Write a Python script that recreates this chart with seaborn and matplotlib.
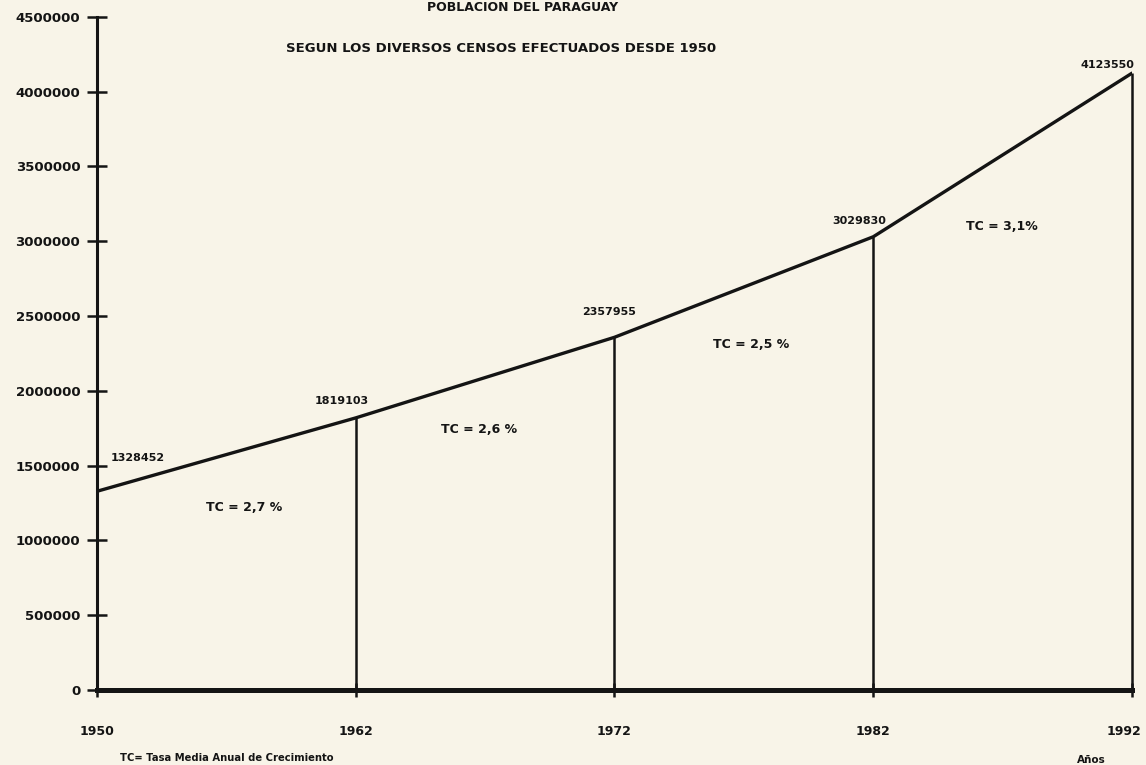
import matplotlib
matplotlib.use("Agg")
import matplotlib.pyplot as plt
import matplotlib.transforms as mtransforms
import seaborn as sns
import pandas as pd

# censos de poblacion del Paraguay
anios = ["1950", "1962", "1972", "1982", "1992"]
poblacion = [1328452, 1819103, 2357955, 3029830, 4123550]
tasas = ["TC = 2,7 %", "TC = 2,6 %", "TC = 2,5 %", "TC = 3,1%"]
y_ticks = [0, 500000, 1000000, 1500000, 2000000, 2500000, 3000000, 3500000, 4000000, 4500000]

sns.set_style("white")
plt.rcParams['font.family'] = ['DejaVu Sans']
plt.rcParams['font.weight'] = 'bold'

fondo = '#f8f4e8'
tinta = '#141414'

df = pd.DataFrame({"pos": range(len(anios)), "poblacion": poblacion})

fig = plt.figure(figsize=(11.46, 7.65), dpi=100, facecolor=fondo)
ax = fig.add_axes([0.0846, 0.098, 0.9032, 0.880])
ax.set_facecolor(fondo)

sns.lineplot(data=df, x="pos", y="poblacion", ax=ax, color=tinta, linewidth=2.4)
ax.vlines(df["pos"], 0, df["poblacion"], color=tinta, linewidth=1.8, clip_on=False)

ax.set_xlim(0, len(anios) - 1)
ax.set_ylim(0, 4500000)
ax.set_xticks(range(len(anios)))
ax.set_xticklabels(anios)
ax.set_yticks(y_ticks)
ax.set_yticklabels([str(v) for v in y_ticks])
ax.set_xlabel("")
ax.set_ylabel("")

for s in ["top", "right"]:
    ax.spines[s].set_visible(False)
ax.spines["left"].set_linewidth(2.2)
ax.spines["bottom"].set_linewidth(3.6)
ax.spines["left"].set_color(tinta)
ax.spines["bottom"].set_color(tinta)

ax.tick_params(axis="y", left=True, direction="inout", length=14, width=1.8, color=tinta,
               labelsize=9.5, pad=5, labelcolor=tinta)
ax.tick_params(axis="x", bottom=True, direction="inout", length=10, width=1.8, color=tinta,
               labelsize=9, pad=20, labelcolor=tinta)
for lab in ax.get_xticklabels() + ax.get_yticklabels():
    lab.set_fontweight("bold")
# el ultimo año un poco hacia la izquierda para que no se corte
ult = ax.get_xticklabels()[-1]
ult.set_transform(ult.get_transform() + mtransforms.ScaledTranslation(-6 / 72, 0, fig.dpi_scale_trans))

# etiquetas de valores (desplazamiento en puntos)
offsets = [(10, 24, "left"), (-10, 12, "center"), (-4, 18, "center"),
           (-10, 11, "center"), (-18, 6, "center")]
for i, (dx, dy, ha) in enumerate(offsets):
    ax.annotate(str(poblacion[i]), (i, poblacion[i]), xytext=(dx, dy),
                textcoords="offset points", ha=ha, va="center",
                fontsize=8, fontweight="bold", color=tinta)

# tasas de crecimiento
tc_pos = [(0.42, 1220000), (1.33, 1740000), (2.38, 2310000), (3.36, 3100000)]
for t, (x, y) in zip(tasas, tc_pos):
    ax.text(x, y, t, ha="left", va="center", fontsize=9, fontweight="bold", color=tinta)

fig.text(0.456, 0.999, "POBLACION DEL PARAGUAY", ha="center", va="top",
         fontsize=9, fontweight="bold", color=tinta)
fig.text(0.437, 0.937, "SEGUN LOS DIVERSOS CENSOS EFECTUADOS DESDE 1950", ha="center",
         va="center", fontsize=9.5, fontweight="bold", color=tinta)
fig.text(0.105, 0.009, "TC= Tasa Media Anual de Crecimiento", ha="left", va="center",
         fontsize=7.2, fontweight="bold", color=tinta)
fig.text(0.952, 0.006, "Años", ha="center", va="center", fontsize=7.5,
         fontweight="bold", color=tinta)

fig.savefig("out.png", dpi=100, facecolor=fondo)
